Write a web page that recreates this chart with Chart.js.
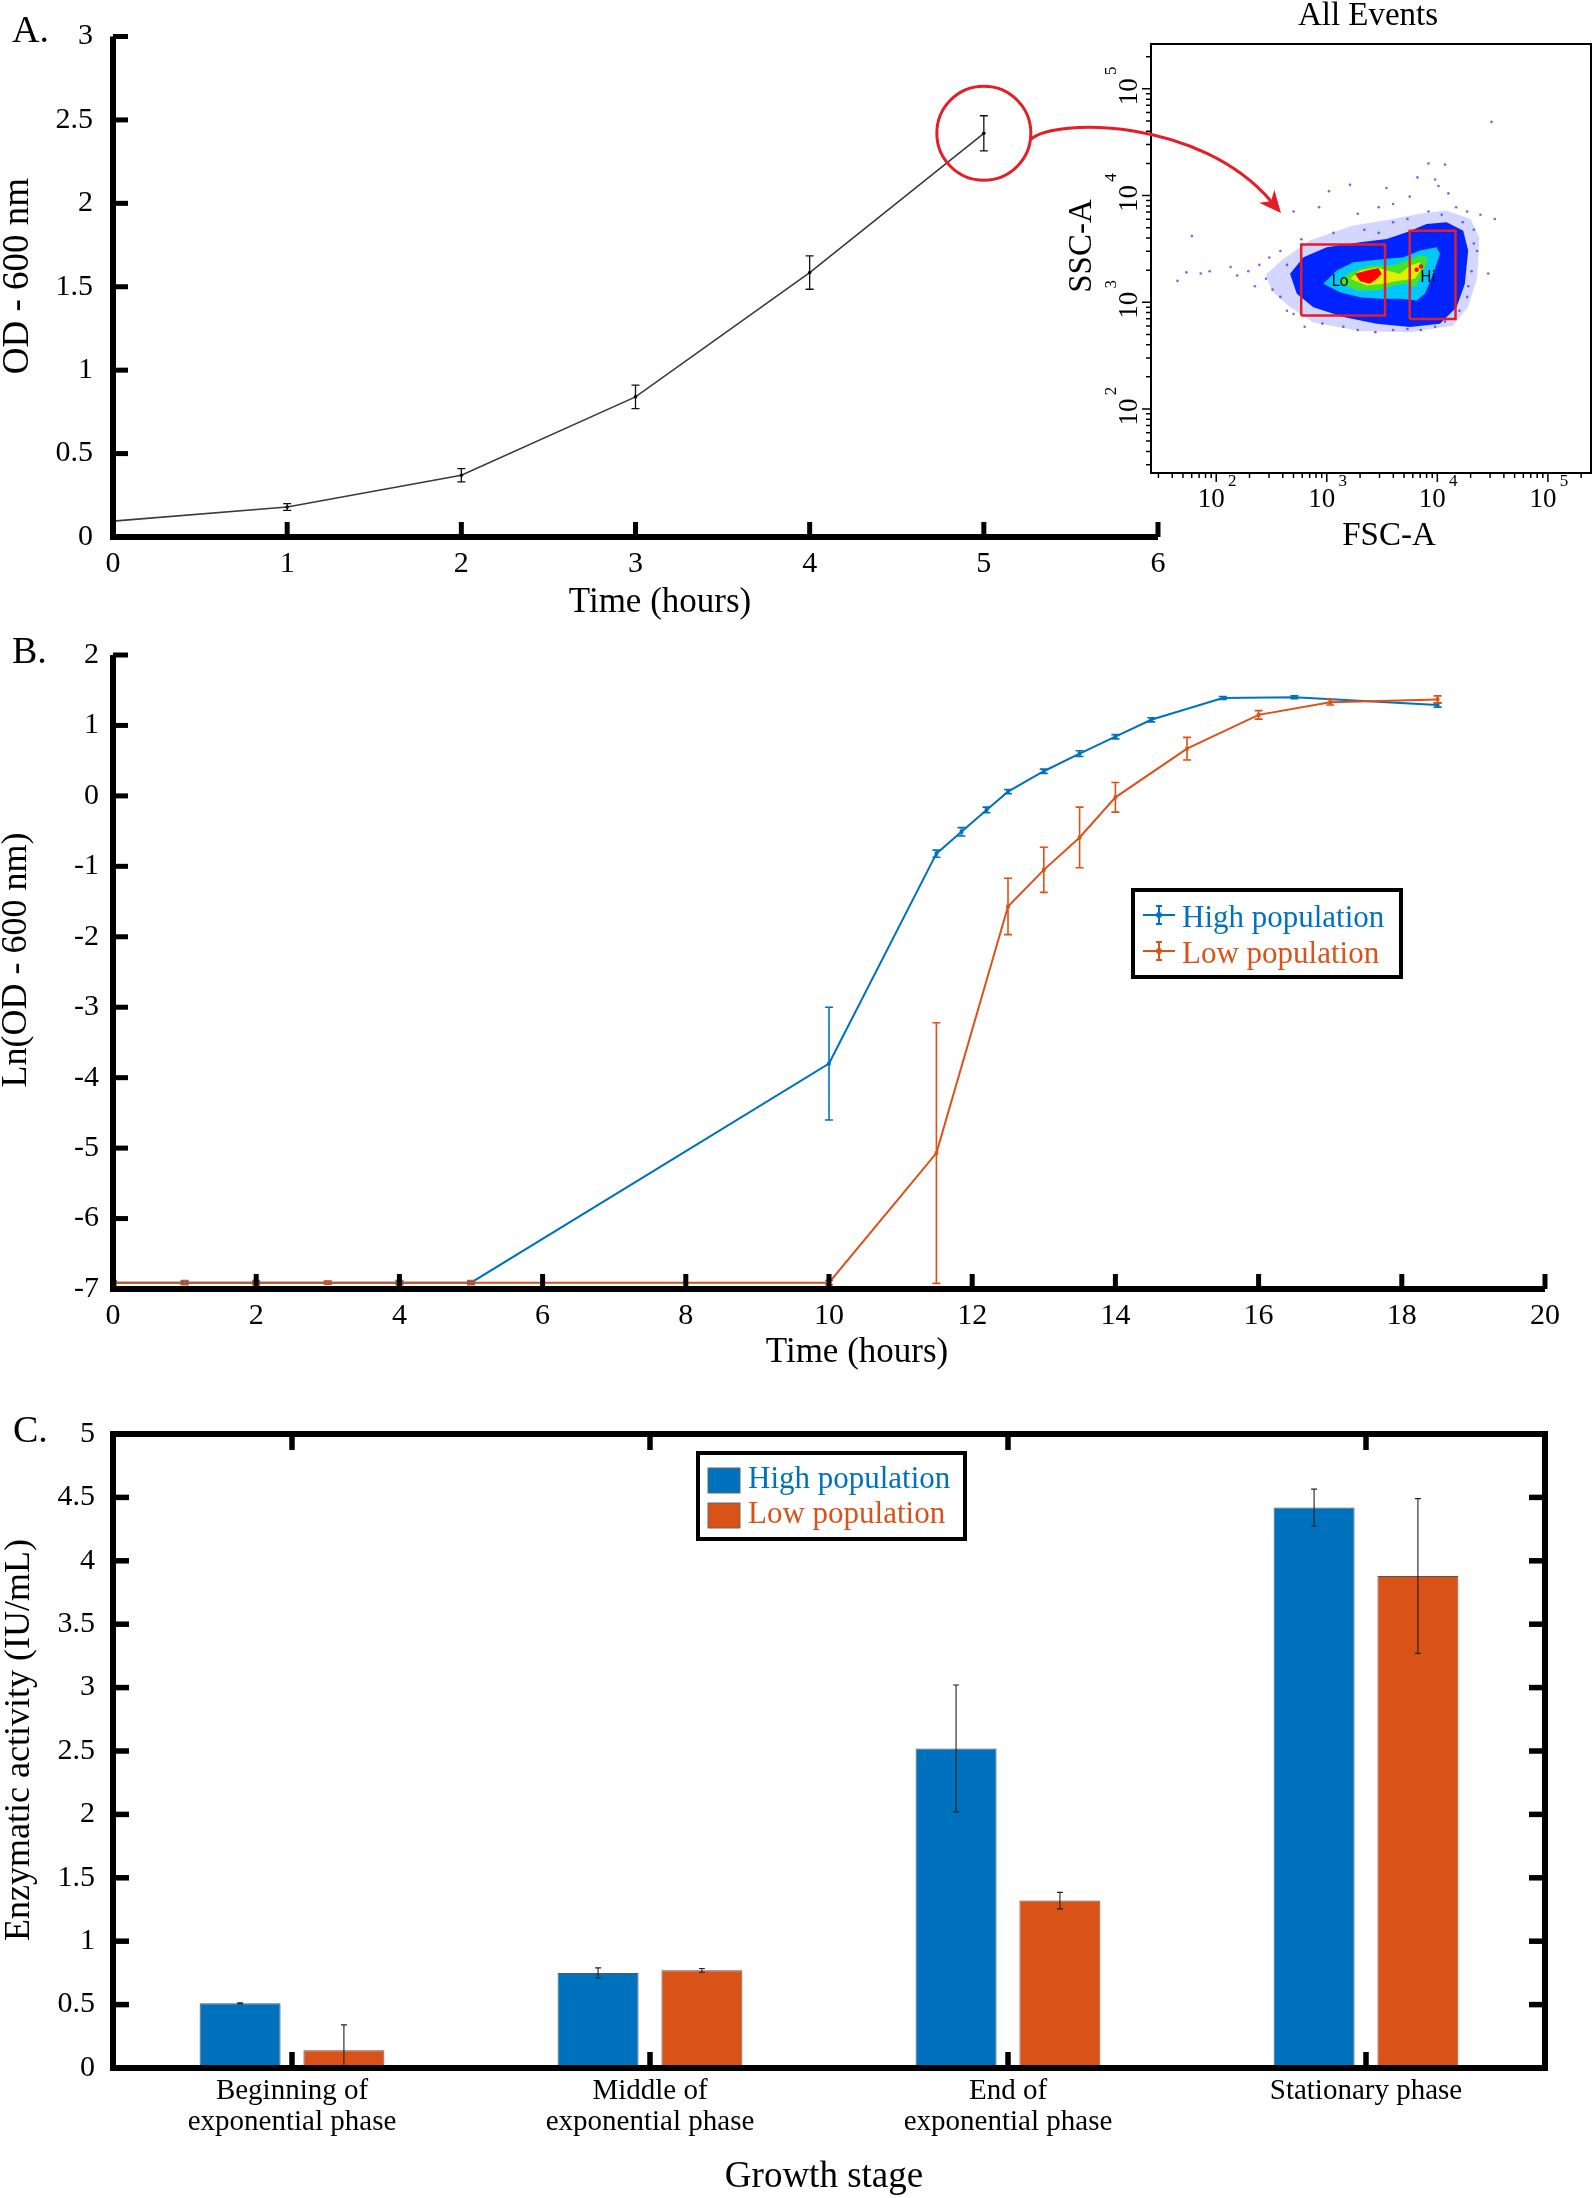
<!DOCTYPE html>
<html>
<head>
<meta charset="utf-8">
<title>Growth curves, flow cytometry and enzymatic activity</title>
<script src="https://cdn.jsdelivr.net/npm/chart.js@4.4.1/dist/chart.umd.min.js"></script>
<style>
  html, body { margin: 0; padding: 0; background: #fff; }
  #page { position: relative; width: 1593px; height: 2198px; background: #fff; }
  .panel { position: absolute; }
  #wrapA { left: 0; top: 0; z-index: 2; }
  #wrapInset { left: 1040px; top: 0; z-index: 1; }
  #wrapB { left: 0; top: 620px; }
  #wrapC { left: 0; top: 1380px; }
</style>
</head>
<body>
<div id="page">
  <div class="panel" id="wrapInset"><canvas id="chartInset" width="553" height="560"></canvas></div>
  <div class="panel" id="wrapA"><canvas id="chartA" width="1593" height="620"></canvas></div>
  <div class="panel" id="wrapB"><canvas id="chartB" width="1593" height="760"></canvas></div>
  <div class="panel" id="wrapC"><canvas id="chartC" width="1593" height="818"></canvas></div>
</div>
<script>
// Growth of the culture (A), Ln growth of both populations (B), enzyme activity (C)

const SERIF = "'Liberation Serif', 'Times New Roman', serif";
const BLUE = "#0072BD";
const ORANGE = "#D95319";

// ---- Panel A: OD600 over the first hours
const timeA = [0, 1, 2, 3, 4, 5];
const odA = [0.095, 0.18, 0.37, 0.84, 1.585, 2.42];
const odErrA = [0, 0.02, 0.04, 0.07, 0.1, 0.105];

// ---- Inset: FSC-A / SSC-A density, stored as log10 values
const insetDecades = [2, 3, 4, 5];
const fscRangeLog = [1.41, 5.39];
const sscRangeLog = [1.40, 5.42];

const haloZoneX = [2.45, 2.60, 2.85, 3.24, 3.60, 3.84, 4.08, 4.30, 4.38, 4.36, 4.28, 4.14, 3.75, 3.30, 2.88, 2.66, 2.50];
const haloZoneY = [3.26, 3.40, 3.58, 3.72, 3.78, 3.83, 3.86, 3.78, 3.61, 3.23, 2.96, 2.78, 2.72, 2.73, 2.81, 2.96, 3.11];
const blueZoneX = [2.668, 2.789, 3.0, 3.301, 3.542, 3.723, 3.903, 4.084, 4.234, 4.279, 4.249, 4.174, 4.024, 3.753, 3.452, 3.15, 2.879, 2.729];
const blueZoneY = [3.266, 3.421, 3.515, 3.562, 3.593, 3.655, 3.734, 3.749, 3.671, 3.484, 3.173, 2.954, 2.799, 2.767, 2.799, 2.861, 2.954, 3.079];
const cyanZoneX = [2.969, 3.090, 3.240, 3.542, 3.692, 3.843, 3.994, 4.024, 3.963, 3.888, 3.813, 3.662, 3.481, 3.301, 3.120];
const cyanZoneY = [3.173, 3.297, 3.375, 3.407, 3.421, 3.484, 3.515, 3.453, 3.266, 3.079, 3.017, 3.033, 3.033, 3.048, 3.094];
const greenZoneX = [3.105, 3.210, 3.391, 3.602, 3.723, 3.843, 3.918, 3.873, 3.798, 3.737, 3.602, 3.452, 3.271];
const greenZoneY = [3.188, 3.281, 3.344, 3.344, 3.391, 3.437, 3.421, 3.266, 3.141, 3.173, 3.157, 3.110, 3.110];
const yellowZoneX = [3.210, 3.301, 3.452, 3.542, 3.662, 3.753, 3.843, 3.858, 3.798, 3.662, 3.511, 3.361];
const yellowZoneY = [3.220, 3.297, 3.328, 3.297, 3.266, 3.344, 3.375, 3.313, 3.220, 3.204, 3.173, 3.157];
const redZoneX = [3.256, 3.361, 3.466, 3.497, 3.452, 3.391, 3.301];
const redZoneY = [3.266, 3.297, 3.322, 3.266, 3.220, 3.173, 3.197];
const redSpotX = [3.813, 3.852];
const redSpotY = [3.304, 3.335];

const dotLogX = [1.65, 1.73, 1.78, 1.86, 1.94, 2.13, 2.19, 2.29, 2.35, 2.39, 2.45, 2.48, 2.51, 2.58, 2.58, 2.64, 2.64, 2.70, 2.70, 2.77,
  2.80, 2.93, 2.96, 3.02, 3.06, 3.15, 3.21, 3.28, 3.28, 3.34, 3.44, 3.47, 3.47, 3.54, 3.60, 3.60, 3.60, 3.73, 3.73, 3.75,
  3.82, 3.85, 3.92, 3.92, 3.98, 3.98, 4.01, 4.04, 4.07, 4.07, 4.10, 4.17, 4.20, 4.23, 4.27, 4.27, 4.28, 4.31, 4.33, 4.33,
  4.36, 4.39, 4.46, 4.49, 4.52];
const dotLogY = [3.20, 3.28, 3.62, 3.27, 3.29, 3.33, 3.25, 3.29, 3.15, 3.35, 3.22, 3.42, 3.12, 3.48, 3.05, 3.35, 2.92, 3.85, 2.89, 3.59,
  2.77, 3.89, 2.80, 4.04, 3.65, 2.77, 4.10, 3.83, 2.74, 3.68, 2.72, 3.89, 3.65, 4.07, 3.92, 3.75, 2.74, 3.78, 2.75, 3.99,
  4.17, 2.74, 4.30, 3.85, 4.15, 2.77, 4.09, 3.82, 4.29, 2.82, 4.02, 3.89, 2.92, 3.75, 3.85, 3.05, 3.15, 3.29, 3.68, 3.55,
  3.48, 3.82, 3.27, 4.69, 3.78];

// gates (FSC-A, SSC-A)
const loGateX = [587, 3365];
const loGateY = [753, 3470];
const hiGateX = [5630, 14600];
const hiGateY = [697, 4690];

// ---- Panel B: Ln(OD600) for both populations
const timeHigh = [0, 1, 2, 3, 4, 5, 10, 11.5, 11.85, 12.2, 12.5, 13, 13.5, 14, 14.5, 15.5, 16.5, 18.5];
const lnHigh = [-6.91, -6.91, -6.91, -6.91, -6.91, -6.91, -3.8, -0.82, -0.51, -0.2, 0.06, 0.35, 0.6, 0.84, 1.08, 1.39, 1.4, 1.29];
const lnErrHigh = [0.02, 0.02, 0.02, 0.02, 0.02, 0.02, 0.8, 0.05, 0.06, 0.04, 0.03, 0.03, 0.04, 0.03, 0.03, 0.02, 0.02, 0.03];
const timeLow = [0, 1, 2, 3, 4, 5, 10, 11.5, 12.5, 13, 13.5, 14, 15, 16, 17, 18.5];
const lnLow = [-6.91, -6.91, -6.91, -6.91, -6.91, -6.91, -6.91, -5.07, -1.57, -1.05, -0.59, -0.02, 0.67, 1.15, 1.33, 1.37];
const lnErrLow = [0.03, 0.03, 0.03, 0.02, 0.03, 0.03, 0.03, 1.85, 0.4, 0.32, 0.43, 0.21, 0.16, 0.06, 0.04, 0.05];

// ---- Panel C: enzymatic activity by growth stage
const stages = [["Beginning of", "exponential phase"], ["Middle of", "exponential phase"], ["End of", "exponential phase"], "Stationary phase"];
const activityHigh = [0.51, 0.75, 2.52, 4.42];
const activityErrHigh = [0.005, 0.04, 0.5, 0.145];
const activityLow = [0.14, 0.77, 1.32, 3.88];
const activityErrLow = [0.2, 0.015, 0.065, 0.61];

Chart.defaults.font.family = SERIF;
Chart.defaults.color = "#000";

const points = (xs, ys) => xs.map((x, i) => ({ x: x, y: ys[i] }));
const plainNumber = (v) => String(Math.round(v * 100) / 100);

// error bars for every dataset that carries an `errors` array
const errorBarPlugin = {
  id: "errorBars",
  afterDatasetsDraw(chart, args, o) {
    const { ctx, chartArea: ca } = chart;
    ctx.save();
    ctx.beginPath();
    ctx.rect(ca.left, ca.top - 2, ca.width, ca.height + 2);
    ctx.clip();
    chart.data.datasets.forEach((ds, i) => {
      if (!ds.errors) return;
      const meta = chart.getDatasetMeta(i);
      const ys = chart.scales[meta.yAxisID];
      ctx.strokeStyle = ds.errorColor || ds.borderColor;
      ctx.lineWidth = o.width;
      meta.data.forEach((el, j) => {
        const e = ds.errors[j];
        if (!e) return;
        const v = meta.controller.getParsed(j).y;
        const top = ys.getPixelForValue(v + e);
        const bot = ys.getPixelForValue(v - e);
        ctx.beginPath();
        ctx.moveTo(el.x, top); ctx.lineTo(el.x, bot);
        ctx.moveTo(el.x - o.cap, top); ctx.lineTo(el.x + o.cap, top);
        ctx.moveTo(el.x - o.cap, bot); ctx.lineTo(el.x + o.cap, bot);
        ctx.stroke();
      });
    });
    ctx.restore();
  },
};

// thick axes with inward ticks, axis titles and panel letter
const axesPlugin = {
  id: "axes",
  afterDraw(chart, args, o) {
    const { ctx, chartArea: ca } = chart;
    const xs = chart.scales.x, ys = chart.scales.y;
    const L = o.tickLen;
    ctx.save();
    ctx.strokeStyle = "#000";
    ctx.lineWidth = o.tickWidth;
    o.sides.forEach((side) => {
      const sc = side === "left" || side === "right" ? ys : xs;
      sc.ticks.forEach((t, i) => {
        const p = sc.getPixelForTick(i);
        ctx.beginPath();
        if (side === "left") { ctx.moveTo(ca.left, p); ctx.lineTo(ca.left + L, p); }
        if (side === "right") { ctx.moveTo(ca.right, p); ctx.lineTo(ca.right - L, p); }
        if (side === "bottom") { ctx.moveTo(p, ca.bottom); ctx.lineTo(p, ca.bottom - L); }
        if (side === "top") { ctx.moveTo(p, ca.top); ctx.lineTo(p, ca.top + L); }
        ctx.stroke();
      });
    });
    ctx.lineWidth = o.lineWidth;
    ctx.lineJoin = "miter";
    if (o.box) {
      ctx.strokeRect(ca.left, ca.top, ca.width, ca.height);
    } else {
      ctx.beginPath();
      ctx.moveTo(ca.left, ca.top);
      ctx.lineTo(ca.left, ca.bottom);
      ctx.lineTo(ca.right, ca.bottom);
      ctx.stroke();
    }
    ctx.fillStyle = "#000";
    o.titles.forEach((t) => {
      ctx.save();
      ctx.font = t.size + "px " + SERIF;
      ctx.textAlign = t.align || "center";
      ctx.textBaseline = t.baseline || "middle";
      ctx.translate(t.x, t.y);
      if (t.rot) ctx.rotate(t.rot);
      ctx.fillText(t.text, 0, 0);
      ctx.restore();
    });
    ctx.restore();
  },
};

// boxed legend inside the plot area
const boxLegendPlugin = {
  id: "boxLegend",
  afterDraw(chart, args, o) {
    const { ctx, chartArea: ca } = chart;
    const x = ca.left + o.dx, y = ca.top + o.dy;
    ctx.save();
    ctx.fillStyle = "#fff";
    ctx.fillRect(x, y, o.w, o.h);
    ctx.lineWidth = 4;
    ctx.strokeStyle = "#000";
    ctx.strokeRect(x, y, o.w, o.h);
    ctx.font = "31px " + SERIF;
    ctx.textAlign = "left";
    ctx.textBaseline = "alphabetic";
    chart.data.datasets.forEach((ds, i) => {
      const ry = y + o.rows[i];
      if (o.kind === "swatch") {
        ctx.fillStyle = ds.backgroundColor;
        ctx.fillRect(x + 10, ry - 12, 32, 25);
        ctx.lineWidth = 1;
        ctx.strokeStyle = "#666";
        ctx.strokeRect(x + 10, ry - 12, 32, 25);
      } else {
        ctx.strokeStyle = ds.borderColor;
        ctx.lineWidth = 2;
        ctx.beginPath();
        ctx.moveTo(x + 10, ry); ctx.lineTo(x + 42, ry);
        ctx.moveTo(x + 26, ry - 9); ctx.lineTo(x + 26, ry + 9);
        ctx.moveTo(x + 23, ry - 9); ctx.lineTo(x + 29, ry - 9);
        ctx.moveTo(x + 23, ry + 9); ctx.lineTo(x + 29, ry + 9);
        ctx.stroke();
        ctx.fillStyle = ds.borderColor;
        ctx.fillRect(x + 23.5, ry - 2.5, 5, 5);
      }
      ctx.fillStyle = ds.textColor;
      ctx.fillText(ds.label, x + o.textX, ry + o.baseline);
    });
    ctx.restore();
  },
};

// red circle on the last point of A and the arrow to the cytometry inset
const calloutPlugin = {
  id: "callout",
  afterDraw(chart, args, o) {
    const { ctx } = chart;
    const cx = chart.scales.x.getPixelForValue(timeA[o.index]);
    const cy = chart.scales.y.getPixelForValue(odA[o.index]);
    const r = 47;
    ctx.save();
    ctx.strokeStyle = o.color;
    ctx.fillStyle = o.color;
    ctx.lineWidth = 3;
    ctx.beginPath();
    ctx.arc(cx, cy, r, 0, Math.PI * 2);
    ctx.stroke();
    const sx = cx + r, sy = cy + 6;
    const [c1x, c1y, c2x, c2y, ex, ey] = o.curve;
    const dx = ex - c2x, dy = ey - c2y, d = Math.hypot(dx, dy);
    const ux = dx / d, uy = dy / d;
    const headL = 22, headW = 10;
    ctx.beginPath();
    ctx.moveTo(sx, sy);
    ctx.bezierCurveTo(c1x, c1y, c2x, c2y, ex - ux * headL * 0.7, ey - uy * headL * 0.7);
    ctx.stroke();
    ctx.beginPath();
    ctx.moveTo(ex, ey);
    ctx.lineTo(ex - ux * headL - uy * headW, ey - uy * headL + ux * headW);
    ctx.lineTo(ex - ux * headL * 0.7, ey - uy * headL * 0.7);
    ctx.lineTo(ex - ux * headL + uy * headW, ey - uy * headL - ux * headW);
    ctx.closePath();
    ctx.fill();
    ctx.restore();
  },
};

// density map, frame, log ticks and labels of the flow cytometry inset
const flowInsetPlugin = {
  id: "flowInset",
  beforeDatasetsDraw(chart, args, o) {
    const { ctx, chartArea: ca } = chart;
    const xs = chart.scales.x, ys = chart.scales.y;
    const zones = [
      [haloZoneX, haloZoneY, "rgba(40,50,255,0.2)"],
      [blueZoneX, blueZoneY, "rgb(0,35,255)"],
      [cyanZoneX, cyanZoneY, "rgb(0,200,255)"],
      [greenZoneX, greenZoneY, "rgb(70,225,40)"],
      [yellowZoneX, yellowZoneY, "rgb(225,240,0)"],
      [redZoneX, redZoneY, "rgb(255,0,0)"],
    ];
    ctx.save();
    ctx.beginPath();
    ctx.rect(ca.left, ca.top, ca.width, ca.height);
    ctx.clip();
    zones.forEach(([zx, zy, color]) => {
      ctx.fillStyle = color;
      ctx.beginPath();
      zx.forEach((lx, k) => {
        const px = xs.getPixelForValue(10 ** lx);
        const py = ys.getPixelForValue(10 ** zy[k]);
        if (k === 0) ctx.moveTo(px, py); else ctx.lineTo(px, py);
      });
      ctx.closePath();
      ctx.fill();
    });
    ctx.fillStyle = "rgb(255,0,0)";
    redSpotX.forEach((lx, k) => {
      ctx.beginPath();
      ctx.arc(xs.getPixelForValue(10 ** lx), ys.getPixelForValue(10 ** redSpotY[k]), 2.2, 0, Math.PI * 2);
      ctx.fill();
    });
    ctx.restore();
  },
  afterDraw(chart, args, o) {
    const { ctx, chartArea: ca } = chart;
    const xs = chart.scales.x, ys = chart.scales.y;
    ctx.save();
    ctx.strokeStyle = "#000";
    ctx.lineWidth = 2;
    ctx.strokeRect(ca.left, ca.top, ca.width, ca.height);
    ctx.lineWidth = 1.5;
    for (let n = 1; n <= 5; n++) {
      for (let k = 1; k <= 9; k++) {
        const v = k * 10 ** n;
        const len = k === 1 ? 9 : 5;
        ctx.beginPath();
        if (v >= xs.min && v <= xs.max) {
          const p = xs.getPixelForValue(v);
          ctx.moveTo(p, ca.bottom); ctx.lineTo(p, ca.bottom + len);
        }
        if (v >= ys.min && v <= ys.max) {
          const p = ys.getPixelForValue(v);
          ctx.moveTo(ca.left, p); ctx.lineTo(ca.left - len, p);
        }
        ctx.stroke();
      }
    }
    ctx.fillStyle = "#000";
    ctx.textAlign = "center";
    ctx.textBaseline = "middle";
    insetDecades.forEach((n) => {
      const px = xs.getPixelForValue(10 ** n);
      ctx.font = "27px " + SERIF;
      ctx.fillText("10", px - 5, ca.bottom + 27);
      ctx.font = "17px " + SERIF;
      ctx.fillText(String(n), px + 16, ca.bottom + 9);
      const py = ys.getPixelForValue(10 ** n);
      ctx.save();
      ctx.translate(ca.left - 21, py + 3);
      ctx.rotate(-Math.PI / 2);
      ctx.font = "27px " + SERIF;
      ctx.fillText("10", 0, 0);
      ctx.font = "17px " + SERIF;
      ctx.fillText(String(n), 21, -18);
      ctx.restore();
    });
    ctx.font = "33px " + SERIF;
    ctx.fillText("All Events", (ca.left + ca.right) / 2 - 3, 16);
    ctx.fillText("FSC-A", 349, 536);
    ctx.save();
    ctx.translate(42, 246);
    ctx.rotate(-Math.PI / 2);
    ctx.fillText("SSC-A", 0, 0);
    ctx.restore();
    ctx.font = "15px 'DejaVu Sans', sans-serif";
    ctx.fillText("Lo", xs.getPixelForValue(1320), ys.getPixelForValue(1530));
    ctx.fillText("Hi", xs.getPixelForValue(8220), ys.getPixelForValue(1700));
    ctx.restore();
  },
};

const gate = (gx, gy) => [
  { x: gx[0], y: gy[0] }, { x: gx[1], y: gy[0] }, { x: gx[1], y: gy[1] }, { x: gx[0], y: gy[1] }, { x: gx[0], y: gy[0] },
];

const tickFont = (size) => ({ family: SERIF, size: size, lineHeight: 1.1 });
const noGrid = { display: false, drawTicks: false };

// ---------------- Panel A
new Chart(document.getElementById("chartA"), {
  type: "line",
  data: {
    datasets: [{
      data: points(timeA, odA),
      errors: odErrA,
      errorColor: "#111",
      borderColor: "#3a3a3a",
      borderWidth: 1.6,
      pointRadius: 1.8,
      pointBackgroundColor: "#000",
      pointBorderWidth: 0,
      tension: 0,
    }],
  },
  options: {
    responsive: false,
    animation: false,
    layout: { autoPadding: false, padding: { top: 35, right: 435, left: 0, bottom: 0 } },
    plugins: {
      legend: { display: false },
      tooltip: { enabled: false },
      errorBars: { width: 1.3, cap: 4 },
      axes: {
        sides: ["left", "bottom"], tickLen: 15, tickWidth: 5, lineWidth: 6, box: false,
        titles: [
          { text: "Time (hours)", x: 660, y: 603, size: 35 },
          { text: "OD - 600 nm", x: 18, y: 276, size: 37, rot: -Math.PI / 2 },
          { text: "A.", x: 12, y: 42, size: 38, align: "left", baseline: "alphabetic" },
        ],
      },
      callout: { index: 5, color: "#E41E26", curve: [1055, 118, 1200, 118, 1281, 213] },
    },
    scales: {
      x: {
        type: "linear", min: 0, max: 6,
        ticks: { stepSize: 1, font: tickFont(30), padding: 11, callback: plainNumber },
        grid: noGrid, border: { display: false },
        afterFit: (s) => { s.height = 83; },
      },
      y: {
        min: 0, max: 3,
        ticks: { stepSize: 0.5, font: tickFont(30), padding: 20, callback: plainNumber },
        grid: noGrid, border: { display: false },
        afterFit: (s) => { s.width = 113; },
      },
    },
  },
  plugins: [errorBarPlugin, axesPlugin, calloutPlugin],
});

// ---------------- Inset
new Chart(document.getElementById("chartInset"), {
  type: "scatter",
  data: {
    datasets: [
      { data: gate(loGateX, loGateY), showLine: true, borderColor: "#E41E26", borderWidth: 2.5, pointRadius: 0, order: 0 },
      { data: gate(hiGateX, hiGateY), showLine: true, borderColor: "#E41E26", borderWidth: 2.5, pointRadius: 0, order: 0 },
      {
        data: dotLogX.map((v, i) => ({ x: 10 ** v, y: 10 ** dotLogY[i] })),
        pointRadius: 1.3, pointBorderWidth: 0, pointBackgroundColor: "rgba(40,40,255,0.7)", order: 1,
      },
    ],
  },
  options: {
    responsive: false,
    animation: false,
    layout: { autoPadding: false, padding: { top: 44, right: 2, left: 0, bottom: 0 } },
    plugins: { legend: { display: false }, tooltip: { enabled: false } },
    scales: {
      x: {
        type: "logarithmic", min: 10 ** fscRangeLog[0], max: 10 ** fscRangeLog[1],
        ticks: { display: false }, grid: noGrid, border: { display: false },
        afterFit: (s) => { s.height = 87; },
      },
      y: {
        type: "logarithmic", min: 10 ** sscRangeLog[0], max: 10 ** sscRangeLog[1],
        ticks: { display: false }, grid: noGrid, border: { display: false },
        afterFit: (s) => { s.width = 111; },
      },
    },
  },
  plugins: [flowInsetPlugin],
});

// ---------------- Panel B
const lineStyle = (color) => ({
  borderColor: color,
  backgroundColor: color,
  textColor: color,
  errorColor: color,
  borderWidth: 2,
  pointStyle: "rect",
  pointRadius: 2.6,
  pointBorderWidth: 0,
  pointBackgroundColor: color,
  tension: 0,
});

new Chart(document.getElementById("chartB"), {
  type: "line",
  data: {
    datasets: [
      Object.assign({ label: "High population", data: points(timeHigh, lnHigh), errors: lnErrHigh, order: 1 }, lineStyle(BLUE)),
      Object.assign({ label: "Low population", data: points(timeLow, lnLow), errors: lnErrLow, order: 0 }, lineStyle(ORANGE)),
    ],
  },
  options: {
    responsive: false,
    animation: false,
    layout: { autoPadding: false, padding: { top: 35, right: 48, left: 0, bottom: 0 } },
    plugins: {
      legend: { display: false },
      tooltip: { enabled: false },
      errorBars: { width: 1.6, cap: 4 },
      boxLegend: { kind: "line", dx: 1020, dy: 235, w: 268, h: 87, rows: [25, 61], textX: 49, baseline: 12 },
      axes: {
        sides: ["left", "bottom"], tickLen: 15, tickWidth: 5, lineWidth: 6, box: false,
        titles: [
          { text: "Time (hours)", x: 857, y: 733, size: 35 },
          { text: "Ln(OD - 600 nm)", x: 17, y: 340, size: 36, rot: -Math.PI / 2 },
          { text: "B.", x: 12, y: 43, size: 38, align: "left", baseline: "alphabetic" },
        ],
      },
    },
    scales: {
      x: {
        type: "linear", min: 0, max: 20,
        ticks: { stepSize: 2, font: tickFont(30), padding: 11, callback: plainNumber },
        grid: noGrid, border: { display: false },
        afterFit: (s) => { s.height = 91; },
      },
      y: {
        min: -7, max: 2,
        ticks: { stepSize: 1, font: tickFont(30), padding: 14, callback: plainNumber },
        grid: noGrid, border: { display: false },
        afterFit: (s) => { s.width = 113; },
      },
    },
  },
  plugins: [errorBarPlugin, axesPlugin, boxLegendPlugin],
});

// ---------------- Panel C
new Chart(document.getElementById("chartC"), {
  type: "bar",
  data: {
    labels: stages,
    datasets: [
      {
        label: "High population", data: activityHigh, errors: activityErrHigh, errorColor: "#222",
        backgroundColor: BLUE, textColor: BLUE, borderColor: "#555", borderWidth: 1,
        barPercentage: 0.78, categoryPercentage: 0.58,
      },
      {
        label: "Low population", data: activityLow, errors: activityErrLow, errorColor: "#222",
        backgroundColor: ORANGE, textColor: ORANGE, borderColor: "#555", borderWidth: 1,
        barPercentage: 0.78, categoryPercentage: 0.58,
      },
    ],
  },
  options: {
    responsive: false,
    animation: false,
    layout: { autoPadding: false, padding: { top: 54, right: 48, left: 0, bottom: 0 } },
    plugins: {
      legend: { display: false },
      tooltip: { enabled: false },
      errorBars: { width: 1.1, cap: 3 },
      boxLegend: { kind: "swatch", dx: 585, dy: 19, w: 267, h: 86, rows: [27, 62], textX: 50, baseline: 8 },
      axes: {
        sides: ["left", "right", "bottom", "top"], tickLen: 16, tickWidth: 5.5, lineWidth: 6, box: true,
        titles: [
          { text: "Growth stage", x: 824, y: 797, size: 37 },
          { text: "Enzymatic activity (IU/mL)", x: 20, y: 360, size: 36, rot: -Math.PI / 2 },
          { text: "C.", x: 13, y: 62, size: 38, align: "left", baseline: "alphabetic" },
        ],
      },
    },
    scales: {
      x: {
        ticks: { font: tickFont(29), padding: 7, autoSkip: false, maxRotation: 0 },
        grid: noGrid, border: { display: false },
        afterFit: (s) => { s.height = 130; },
      },
      y: {
        min: 0, max: 5,
        ticks: { stepSize: 0.5, font: tickFont(30), padding: 18, callback: plainNumber },
        grid: noGrid, border: { display: false },
        afterFit: (s) => { s.width = 113; },
      },
    },
  },
  plugins: [errorBarPlugin, axesPlugin, boxLegendPlugin],
});
</script>
</body>
</html>
